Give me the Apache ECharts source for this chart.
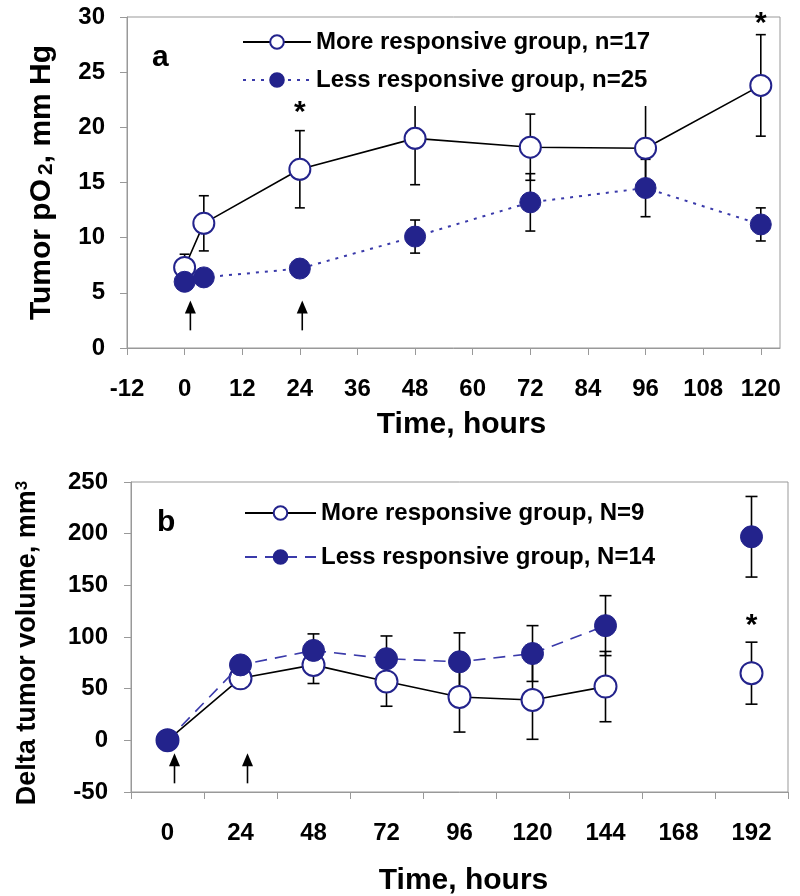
<!DOCTYPE html>
<html>
<head>
<meta charset="utf-8">
<script src="https://cdn.jsdelivr.net/npm/echarts@6/dist/echarts.min.js"></script>
<style>
  html, body { margin: 0; padding: 0; background: #fff; }
  #main { width: 800px; height: 896px; }
</style>
</head>
<body>
<div id="main"></div>
<script>
// panel a: tumor pO2
var topHours = [0, 4, 24, 48, 72, 96, 120];
var topMore = [7.3, 11.3, 16.2, 19.0, 18.2, 18.1, 23.8];
var topMoreErr = [1.2, 2.5, 3.5, 4.2, 3.0, 4.1, 4.6];
var topLess = [6.0, 6.4, 7.2, 10.1, 13.2, 14.5, 11.2];
var topLessErr = [0.5, 0.5, 0.6, 1.5, 2.6, 2.6, 1.5];
var topTicks = [-12, 0, 12, 24, 36, 48, 60, 72, 84, 96, 108, 120];
var topArrowX = [1.2, 24.5];
var topStarX = [24, 120];
var topStarY = [21.3, 29.4];

// panel b: delta tumor volume
var volHours = ['0', '24', '48', '72', '96', '120', '144', '168', '192'];
var volMore = [0, 60, 73, 57, 42, 39, 52, null, 65];
var volMoreErr = [0, 9, 18, 24, 34, 38, 34, null, 30];
var volLess = [0, 73, 87, 79, 76, 84, 111, null, 197];
var volLessErr = [0, 5, 16, 22, 28, 27, 29, null, 39];
var volArrowIdx = [0, 1];
var volStarIdx = [8];
var volStarY = [111];

var nameMoreA = 'More responsive group, n=17';
var nameLessA = 'Less responsive group, n=25';
var nameMoreB = 'More responsive group, N=9';
var nameLessB = 'Less responsive group, N=14';

var FONT = '"Liberation Sans", Arial, sans-serif';
var NAVY = '#23238c';
var BLUE = '#3a3aaa';

function pairs(xs, ys) {
  var out = [];
  for (var i = 0; i < xs.length; i++) out.push([xs[i], ys[i]]);
  return out;
}
function errData(xs, ys, es) {
  var out = [];
  for (var i = 0; i < xs.length; i++) {
    if (ys[i] == null) continue;
    out.push([xs[i], ys[i] - es[i], ys[i] + es[i]]);
  }
  return out;
}
function errRender(capW) {
  return function (params, api) {
    var lo = api.coord([api.value(0), api.value(1)]);
    var hi = api.coord([api.value(0), api.value(2)]);
    var st = { stroke: '#000', lineWidth: 1.6 };
    return {
      type: 'group',
      children: [
        { type: 'line', shape: { x1: hi[0], y1: hi[1], x2: lo[0], y2: lo[1] }, style: st },
        { type: 'line', shape: { x1: hi[0] - capW, y1: hi[1], x2: hi[0] + capW, y2: hi[1] }, style: st },
        { type: 'line', shape: { x1: lo[0] - capW, y1: lo[1], x2: lo[0] + capW, y2: lo[1] }, style: st }
      ]
    };
  };
}
function arrowRender(dx) {
  return function (params, api) {
    var a = api.coord([api.value(0), api.value(1)]);
    var b = api.coord([api.value(0), api.value(2)]);
    var x = a[0] + dx;
    return {
      type: 'group',
      children: [
        { type: 'line', shape: { x1: x, y1: a[1], x2: x, y2: b[1] + 8 }, style: { stroke: '#000', lineWidth: 1.6 } },
        { type: 'polygon', shape: { points: [[x, b[1]], [x - 5.5, b[1] + 13], [x + 5.5, b[1] + 13]] }, style: { fill: '#000' } }
      ]
    };
  };
}
function starRender(params, api) {
  var p = api.coord([api.value(0), api.value(1)]);
  return {
    type: 'text',
    x: p[0], y: p[1],
    style: { text: '*', fontSize: 30, fontWeight: 'bold', fontFamily: FONT, fill: '#000', align: 'center', verticalAlign: 'middle' }
  };
}

var labelStyle = { fontSize: 24, fontWeight: 'bold', color: '#000', fontFamily: FONT };
var nameStyle = { fontSize: 30, fontWeight: 'bold', color: '#000', fontFamily: FONT };
var legendText = { fontSize: 24, fontWeight: 'bold', color: '#000', fontFamily: FONT };
var greyLine = { show: true, onZero: false, lineStyle: { color: '#999' } };
var greyTick = { show: true, length: 7, lineStyle: { color: '#999' } };

var chart = echarts.init(document.getElementById('main'));
var option = {
  animation: false,
  backgroundColor: '#fff',
  textStyle: { fontFamily: FONT },
  grid: [
    { left: 127, top: 17, width: 653, height: 331, show: true, borderColor: '#999', borderWidth: 1, outerBoundsMode: 'none' },
    { left: 131, top: 482, width: 657, height: 310, show: true, borderColor: '#999', borderWidth: 1, outerBoundsMode: 'none' }
  ],
  xAxis: [
    {
      type: 'value', gridIndex: 0, min: -12, max: 124, interval: 12,
      axisLine: greyLine,
      axisTick: Object.assign({ customValues: topTicks }, greyTick),
      axisLabel: Object.assign({ margin: 29, customValues: topTicks }, labelStyle),
      splitLine: { show: false },
      name: 'Time, hours', nameLocation: 'middle', nameGap: 62,
      nameTextStyle: Object.assign({ padding: [0, 0, 0, 16] }, nameStyle)
    },
    {
      type: 'category', gridIndex: 1, data: volHours, boundaryGap: true,
      axisLine: greyLine,
      axisTick: greyTick,
      axisLabel: Object.assign({ margin: 29, interval: 0 }, labelStyle),
      splitLine: { show: false },
      name: 'Time, hours', nameLocation: 'middle', nameGap: 74,
      nameTextStyle: Object.assign({ padding: [0, 0, 0, 8] }, nameStyle)
    }
  ],
  yAxis: [
    {
      type: 'value', gridIndex: 0, min: 0, max: 30, interval: 5,
      axisLine: greyLine,
      axisTick: greyTick,
      axisLabel: Object.assign({ margin: 22 }, labelStyle),
      splitLine: { show: false },
      name: 'Tumor pO{sub|2}, mm Hg', nameLocation: 'middle', nameGap: 70,
      nameTextStyle: Object.assign({
        rich: { sub: { fontSize: 21, fontWeight: 'bold', color: '#000', fontFamily: FONT, verticalAlign: 'bottom', padding: [0, 0, 0, 4] } }
      }, nameStyle, { fontSize: 30 })
    },
    {
      type: 'value', gridIndex: 1, min: -50, max: 250, interval: 50,
      axisLine: greyLine,
      axisTick: greyTick,
      axisLabel: Object.assign({ margin: 23 }, labelStyle),
      splitLine: { show: false },
      name: 'Delta tumor volume, mm{sup|3}', nameLocation: 'middle', nameGap: 90,
      nameTextStyle: Object.assign({
        rich: { sup: { fontSize: 17, fontWeight: 'bold', color: '#000', fontFamily: FONT, verticalAlign: 'top' } }
      }, nameStyle, { fontSize: 27, padding: [0, 12, 0, 0] })
    }
  ],
  legend: [
    {
      data: [nameMoreA, nameLessA], orient: 'vertical', left: 242, top: 26,
      itemWidth: 68, itemHeight: 17, itemGap: 14, selectedMode: false,
      padding: [4, 4, 14, 0], backgroundColor: '#fff',
      textStyle: legendText
    },
    {
      data: [nameMoreB, nameLessB], orient: 'vertical', left: 244, top: 497,
      itemWidth: 71, itemHeight: 17, itemGap: 20, selectedMode: false,
      padding: [4, 4, 4, 0],
      textStyle: legendText
    }
  ],
  graphic: [
    { type: 'text', left: 152, top: 43, style: { text: 'a', fontSize: 30, fontWeight: 'bold', fontFamily: FONT, fill: '#000' } },
    { type: 'text', left: 157, top: 508, style: { text: 'b', fontSize: 30, fontWeight: 'bold', fontFamily: FONT, fill: '#000' } }
  ],
  series: [
    // panel a
    { type: 'custom', name: 'errA1', xAxisIndex: 0, yAxisIndex: 0, z: 1, renderItem: errRender(5), data: errData(topHours, topMore, topMoreErr) },
    { type: 'custom', name: 'errA2', xAxisIndex: 0, yAxisIndex: 0, z: 1, renderItem: errRender(5), data: errData(topHours, topLess, topLessErr) },
    {
      type: 'line', name: nameMoreA, xAxisIndex: 0, yAxisIndex: 0, z: 3,
      data: pairs(topHours, topMore), symbol: 'circle', symbolSize: 21,
      lineStyle: { color: '#000', width: 1.6 },
      itemStyle: { color: '#fff', borderColor: NAVY, borderWidth: 2 }
    },
    {
      type: 'line', name: nameLessA, xAxisIndex: 0, yAxisIndex: 0, z: 4,
      data: pairs(topHours, topLess), symbol: 'circle', symbolSize: 21,
      lineStyle: { color: BLUE, width: 2, type: [3, 6] },
      itemStyle: { color: NAVY, borderColor: NAVY, borderWidth: 1 }
    },
    {
      type: 'custom', name: 'arrowA', xAxisIndex: 0, yAxisIndex: 0, z: 5, renderItem: arrowRender(0),
      data: topArrowX.map(function (x) { return [x, 1.6, 4.3]; })
    },
    {
      type: 'custom', name: 'starA', xAxisIndex: 0, yAxisIndex: 0, z: 5, renderItem: starRender,
      data: pairs(topStarX, topStarY)
    },
    // panel b
    { type: 'custom', name: 'errB1', xAxisIndex: 1, yAxisIndex: 1, z: 1, renderItem: errRender(6), data: errData(volHours.map(function (d, i) { return i; }), volMore, volMoreErr) },
    { type: 'custom', name: 'errB2', xAxisIndex: 1, yAxisIndex: 1, z: 1, renderItem: errRender(6), data: errData(volHours.map(function (d, i) { return i; }), volLess, volLessErr) },
    {
      type: 'line', name: nameMoreB, xAxisIndex: 1, yAxisIndex: 1, z: 3,
      data: volMore, symbol: 'circle', symbolSize: 22, connectNulls: false,
      lineStyle: { color: '#000', width: 1.6 },
      itemStyle: { color: '#fff', borderColor: NAVY, borderWidth: 2 }
    },
    {
      type: 'line', name: nameLessB, xAxisIndex: 1, yAxisIndex: 1, z: 4,
      data: volLess, symbol: 'circle', symbolSize: 22, connectNulls: false,
      lineStyle: { color: BLUE, width: 1.6, type: [12, 8] },
      itemStyle: { color: NAVY, borderColor: NAVY, borderWidth: 1 }
    },
    {
      type: 'custom', name: 'arrowB', xAxisIndex: 1, yAxisIndex: 1, z: 5, renderItem: arrowRender(7),
      data: volArrowIdx.map(function (i) { return [i, -41.6, -12.6]; })
    },
    {
      type: 'custom', name: 'starB', xAxisIndex: 1, yAxisIndex: 1, z: 5, renderItem: starRender,
      data: pairs(volStarIdx, volStarY)
    }
  ]
};
chart.setOption(option);
</script>
</body>
</html>
